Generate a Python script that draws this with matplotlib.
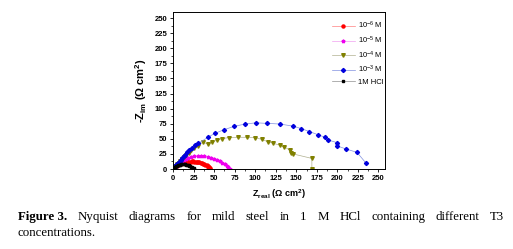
import matplotlib
matplotlib.use("Agg")
from matplotlib import pyplot as plt
from matplotlib.ticker import MultipleLocator

# 1M HCl (blank)
black_x = [0.5, 1.2, 2, 3, 4, 5, 6, 7, 8, 9, 10, 11, 12, 13, 14, 15, 16, 17, 18, 19, 20, 21, 22, 23, 24, 25, 25.8]
black_y = [0.5, 1.5, 2.5, 3.5, 4.4, 5.2, 5.9, 6.5, 7, 7.4, 7.7, 7.9, 8, 8, 7.9, 7.7, 7.4, 7, 6.5, 5.9, 5.2, 4.4, 3.5, 2.6, 1.7, 0.9, 0.3]

# 10^-6 M
red_x = [0.5, 1.2, 2, 3, 4, 5.2, 6.5, 8, 9.5, 11, 12.5, 14, 15.5, 17, 18.5, 20, 21.5, 23, 24.5, 26, 27.5,
         29, 30.5, 32, 33.5, 35, 36.5, 38, 39.5, 40.8, 42, 43, 44, 44.8, 45.5]
red_y = [0.5, 1.5, 2.5, 3.6, 4.6, 5.6, 6.6, 7.6, 8.4, 9.2, 9.9, 10.5, 11, 11.5, 11.9, 12.2, 12.4, 12.5, 12.5,
         12.4, 12.2, 11.9, 11.5, 11, 10.4, 9.7, 8.9, 8, 7, 5.9, 4.8, 3.7, 2.6, 1.5, 0.5]

# 10^-5 M
mag_x = [0.5, 1.5, 3, 5, 7, 9, 11, 13, 15.5, 18.5, 22, 26, 30, 34, 38, 42, 46, 50, 54, 57, 60, 63, 65.5, 67.5, 69]
mag_y = [0.5, 2, 4, 6.5, 9, 11, 13, 15, 17, 18.5, 20, 20.8, 21.2, 21.2, 20.8, 20, 18.5, 16.5, 14.5, 12.5,
         10, 7.5, 5, 2.5, 0.5]

# 10^-4 M
olive_x = [1, 2, 3.5, 5, 7, 9, 11, 13.5, 16, 19, 22, 26, 30, 36, 42, 48, 54, 60, 68, 79, 90, 100, 108, 116,
           122, 130, 135, 142, 144, 146, 169, 169]
olive_y = [1.3, 3, 5, 7.5, 10, 13, 16, 19.5, 23, 27, 31, 35, 38.5, 44, 42, 45, 48, 50.5, 52, 52.5, 52.5, 52,
           49, 45, 42.5, 39.5, 37, 31.5, 27, 25, 17.5, 0.5]

# 10^-3 M
blue_x = [1, 2, 3, 4, 5, 6.5, 8, 9.5, 11, 13, 15, 17.5, 20, 23, 27, 31, 43, 51, 62, 74, 88, 101, 115, 130,
          146, 156, 166, 176, 185, 189, 200, 200, 211, 224, 235]
blue_y = [1.5, 3.2, 5, 6.8, 8.5, 10.5, 13, 15.5, 18, 21, 24, 27.5, 31, 35, 39, 42.5, 53, 59, 65, 70.5, 74.5,
          76.5, 75.5, 74.5, 71, 67, 62, 57, 52.5, 48, 43.5, 38, 33, 27.5, 9.5]

plt.rcParams['font.family'] = ['Liberation Sans', 'DejaVu Sans']
plt.rcParams['mathtext.default'] = 'regular'

fig = plt.figure(figsize=(5.13, 2.49), dpi=100)
ax = fig.add_axes([173 / 513, 80 / 249, 212 / 513, 157 / 249])

# 画五条曲线
ax.plot(red_x, red_y, '-o', color='#ff8080', mfc='red', mec='red', ms=2.2, lw=0.5, label=r'10$^{-6}$ M')
ax.plot(mag_x, mag_y, '-*', color='#f0a0f0', mfc='#ee00ee', mec='#ee00ee', ms=2.6, lw=0.5, label=r'10$^{-5}$ M')
ax.plot(olive_x, olive_y, '-v', color='#b0b090', mfc='#808000', mec='#808000', ms=2.6, lw=0.5, label=r'10$^{-4}$ M')
ax.plot(blue_x, blue_y, '-D', color='#8090e0', mfc='#0000dd', mec='#0000dd', ms=2.1, lw=0.5, label=r'10$^{-3}$ M')
ax.plot(black_x, black_y, '-s', color='#909090', mfc='black', mec='black', ms=1.8, lw=0.5, label='1M HCl')

ax.set_xlim(0, 258)
ax.set_ylim(0, 260)
ax.xaxis.set_major_locator(MultipleLocator(25))
ax.yaxis.set_major_locator(MultipleLocator(25))
ax.xaxis.set_minor_locator(MultipleLocator(12.5))
ax.yaxis.set_minor_locator(MultipleLocator(12.5))
ax.tick_params(which='major', direction='out', length=2.5, width=0.6, labelsize=5.5, pad=1.5)
ax.tick_params(which='minor', direction='out', length=1.5, width=0.5)
for lab in ax.get_xticklabels() + ax.get_yticklabels():
    lab.set_fontweight('bold')
for s in ax.spines.values():
    s.set_linewidth(0.7)

ax.set_xlabel(r'Z$_{real}$ ($\Omega$ cm$^2$)', fontsize=6.5, fontweight='bold', labelpad=4)
ax.set_ylabel(r'-Z$_{im}$ ($\Omega$ cm$^2$)', fontsize=8, fontweight='bold', labelpad=4)

ax.legend(loc='upper left', bbox_to_anchor=(328 / 513, 1 - 16 / 249), bbox_transform=fig.transFigure,
          frameon=False, fontsize=5.5, handlelength=3, handletextpad=0.4, labelspacing=0.45, borderpad=0,
          markerscale=1.0)

# 图注, 两端对齐
cap = dict(fontsize=9.3, family='Liberation Serif', va='center', transform=fig.transFigure)
words = ['Figure 3.', 'Nyquist', 'diagrams', 'for', 'mild', 'steel', 'in', '1', 'M', 'HCl',
         'containing', 'different', 'T3']
texts = []
for i, w in enumerate(words):
    texts.append(fig.text(0, 1 - 217 / 249, w, fontweight='bold' if i == 0 else 'normal', **cap))
fig.canvas.draw()
r = fig.canvas.get_renderer()
widths = [t.get_window_extent(r).width for t in texts]
left, right = 18, 504
gap = (right - left - sum(widths)) / (len(words) - 1)
x = left
for t, wd in zip(texts, widths):
    t.set_x(x / 513)
    x += wd + gap
fig.text(18 / 513, 1 - 233 / 249, 'concentrations.', **cap)

fig.savefig('out.png', dpi=100)
